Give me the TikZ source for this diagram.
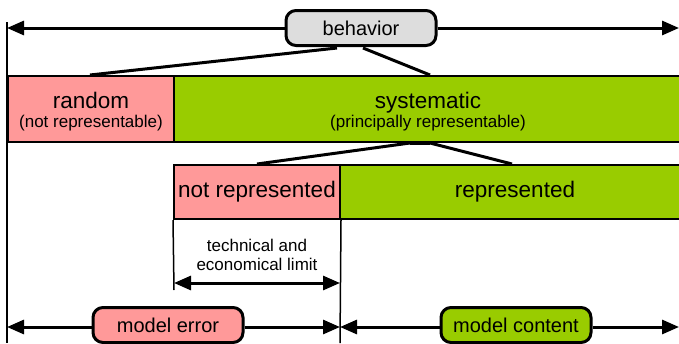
\documentclass[tikz,border=0pt]{standalone}
\usepackage{fontspec}
\setmainfont{Liberation Sans}
\usetikzlibrary{arrows.meta,calc}

\definecolor{errpink}{HTML}{FF9999}
\definecolor{okgreen}{HTML}{99CC00}
\definecolor{tagGray}{HTML}{DDDDDD}

\tikzset{
  box/.style={draw=black, line width=2pt, inner sep=0pt, anchor=center,
    text height=16.2pt, text depth=4.7pt, font=\fontsize{22.5}{26}\selectfont},
  tag/.style={draw=black, line width=3pt, rounded corners=10pt, inner sep=0pt,
    minimum width=150pt, minimum height=35pt, font=\fontsize{20}{24}\selectfont},
  bigtxt/.style={anchor=base, inner sep=0pt, font=\fontsize{22.5}{26}\selectfont},
  smalltxt/.style={anchor=base, inner sep=0pt, font=\fontsize{17}{20}\selectfont},
  headtip/.tip={Triangle[length=17pt 0 0,width=14pt 0 0]},
  tip/.style={line width=3pt, -headtip},
  twotip/.style={line width=3pt, headtip-headtip},
  rule/.style={line width=1.5pt},
  branch/.style={line width=3pt},
}

\begin{document}
\begin{tikzpicture}[x=1pt, y=-1pt]
  \useasboundingbox (0,0) rectangle (679,343);

  % frame coordinates
  \coordinate (ltop) at (7,22);
  \coordinate (lbot) at (7,343);
  \coordinate (bl) at (7,28);
  \coordinate (br) at (679,28);
  \coordinate (ml) at (7,327);
  \coordinate (mm) at (340,327);
  \coordinate (mr) at (679,327);
  \coordinate (tl) at (174,283);
  \coordinate (tr) at (340,283);
  \coordinate (cbot) at (174,290);
  \coordinate (rbot) at (340,343);

  % vertical guide lines
  \draw[rule] (ltop) -- (lbot);

  % category boxes
  \node[box, fill=errpink, minimum width=166pt, minimum height=66pt] (random) at (91,109) {};
  \node[box, fill=okgreen, minimum width=516pt, minimum height=66pt] (systematic) at (432,109) {};
  \node[box, fill=errpink, minimum width=166pt, minimum height=54pt] (notrep) at (257,192) {not represented};
  \node[box, fill=okgreen, minimum width=350pt, minimum height=54pt] (rep) at (515,192) {represented};

  \node[bigtxt] at (91,108) {random};
  \node[smalltxt] at (91,127) {(not representable)};
  \node[bigtxt] at (428,108) {systematic};
  \node[smalltxt] at (428,127) {(principally representable)};

  \draw[rule] (notrep.south west) -- (cbot);
  \draw[rule] (notrep.south east) -- (rbot);

  % technical and economical limit
  \node[smalltxt] at (257,251) {technical and};
  \node[smalltxt] at (257,270) {economical limit};
  \draw[twotip] (tl) -- (tr);

  % behavior tag with its span
  \node[tag, fill=tagGray] (behavior) at (361,28) {behavior};
  \draw[tip] (behavior.west) -- (bl);
  \draw[tip] (behavior.east) -- (br);
  \draw[branch] ($(behavior.south)+(-24,1)$) -- ($(random.north)+(-1,0)$);
  \draw[branch] ($(behavior.south)+(2,1)$) -- ($(systematic.north)+(-2,0)$);

  % split of the systematic part
  \coordinate (sa) at (410,143);
  \coordinate (sb) at (430,143);
  \draw[branch] (sa) -- (sb);
  \draw[branch] (sa) -- (notrep.north);
  \draw[branch] (sb) -- ($(rep.north)+(-3,0)$);

  % model error / model content spans
  \node[tag, fill=errpink] (moderr) at (168,325) {model error};
  \node[tag, fill=okgreen] (modcont) at (516,325) {model content};
  \draw[tip] (moderr.west |- ml) -- (ml);
  \draw[tip] (moderr.east |- ml) -- (mm);
  \draw[tip] (modcont.west |- mr) -- (mm);
  \draw[tip] (modcont.east |- mr) -- (mr);
\end{tikzpicture}
\end{document}
